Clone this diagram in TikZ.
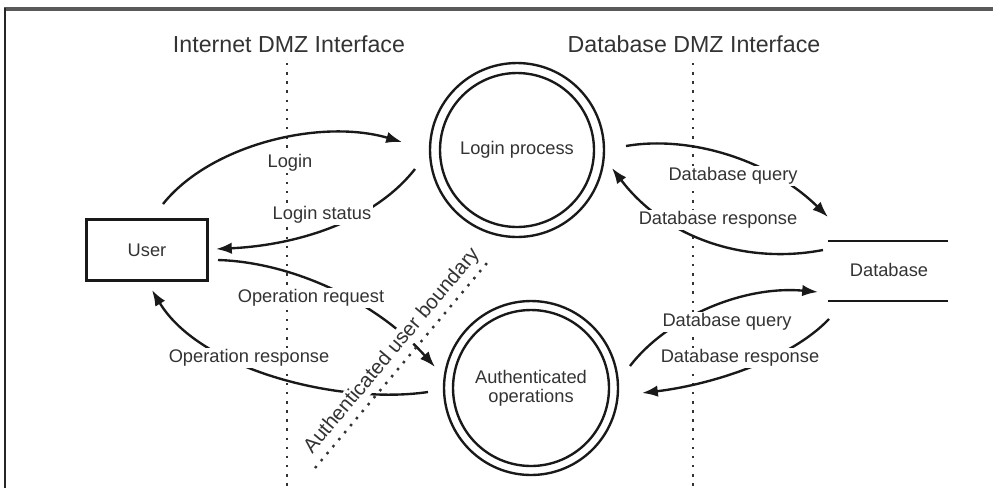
\documentclass[tikz,border=0pt]{standalone}
\usepackage{fontspec}
\setmainfont{Liberation Sans}
\usetikzlibrary{arrows.meta}
\begin{document}
\begin{tikzpicture}[x=0.02cm,y=-0.02cm,
  flow/.style={line width=1.35pt, draw=black!90, -{Latex[length=9pt,width=6.5pt]}},
  lbl/.style={font=\fontsize{10.4}{12}\selectfont, text=black!80, fill=white, inner sep=1pt},
  plain/.style={font=\fontsize{10.4}{12}\selectfont, text=black!80, inner sep=1pt},
  bndlbl/.style={font=\fontsize{11.6}{13}\selectfont, text=black!80, fill=white, inner sep=1pt},
  titletext/.style={font=\fontsize{13.2}{15}\selectfont, text=black!80},
  vdots/.style={line width=1.4pt, draw=black!80, dash pattern=on 1.4pt off 3.8pt},
  proc/.style={circle, draw=black!90, line width=1.35pt, minimum size=3.48cm, align=center,
    font=\fontsize{10.4}{11}\selectfont, text=black!80},
  inring/.style={draw=black!90, line width=1.35pt},
  userbox/.style={draw=black!90, line width=1.35pt, minimum width=2.42cm, minimum height=1.22cm,
    font=\fontsize{10.4}{12}\selectfont, text=black!80},
  storeline/.style={draw=black!90, line width=1.35pt}
]
\useasboundingbox (0,0) rectangle (993,488);
% frame
\draw[line width=1.8pt, draw=black!65] (4,9) -- (993,9);
\draw[line width=1.3pt, draw=black!85] (5,8) -- (5,488);

% titles
\node[titletext] (t1) at (289,44) {Internet DMZ Interface};
\node[titletext] (t2) at (694,44) {Database DMZ Interface};

% DMZ dotted lines
\coordinate (d1top) at (287,63);
\coordinate (d1bot) at (287,486);
\coordinate (d2top) at (693,63);
\coordinate (d2bot) at (693,486);
\draw[vdots] (d1top) -- (d1bot);
\draw[vdots] (d2top) -- (d2bot);

% nodes
\node[userbox] (user) at (147,250) {User};
\node[proc] (login) at (517,150) {Login process};
\draw[inring] (login.center) circle[radius=1.54cm];
\node[proc] (auth) at (531,388) {Authenticated\\operations};
\draw[inring] (auth.center) circle[radius=1.56cm];
\node[plain] (db) at (889,270) {Database};
\coordinate (dbA1) at (828,241);
\coordinate (dbA2) at (948,241);
\coordinate (dbB1) at (828,301);
\coordinate (dbB2) at (948,301);
\draw[storeline] (dbA1) -- (dbA2);
\draw[storeline] (dbB1) -- (dbB2);

% flow end points
\coordinate (f1s) at (163,204);  \coordinate (f1e) at (402,142);
\coordinate (f2s) at (415,169);  \coordinate (f2e) at (216,249);
\coordinate (f3s) at (218,260);  \coordinate (f3e) at (435,367);
\coordinate (f4s) at (428,392);  \coordinate (f4e) at (152,290);
\coordinate (f5s) at (626,146);  \coordinate (f5e) at (828,217);
\coordinate (f6s) at (823,250);  \coordinate (f6e) at (612,168);
\coordinate (f7s) at (630,366);  \coordinate (f7e) at (818,292);
\coordinate (f8s) at (829,319);  \coordinate (f8e) at (642,393);

\draw[flow] (f1s) .. controls (210,145) and (320,118) .. (f1e);
\draw[flow] (f2s) .. controls (375,220) and (300,245) .. (f2e);
\draw[flow] (f3s) .. controls (290,262) and (375,300) .. (f3e);
\draw[flow] (f4s) .. controls (340,405) and (200,370) .. (f4e);
\draw[flow] (f5s) .. controls (690,135) and (770,160) .. (f5e);
\draw[flow] (f6s) .. controls (745,265) and (665,238) .. (f6e);
\draw[flow] (f7s) .. controls (665,320) and (740,285) .. (f7e);
\draw[flow] (f8s) .. controls (790,360) and (710,385) .. (f8e);

% flow labels
\node[lbl] (l1) at (290,163) {Login};
\node[lbl] (l2) at (322,215) {Login status};
\node[lbl] (l3) at (311,298) {Operation request};
\node[lbl] (l4) at (249,358) {Operation response};
\node[lbl] (l5) at (733,176) {Database query};
\node[lbl] (l6) at (718,220) {Database response};
\node[lbl] (l7) at (727,322) {Database query};
\node[lbl] (l8) at (740,358) {Database response};

% authenticated user boundary
\coordinate (b1) at (315,468);
\coordinate (b2) at (487,263);
\draw[vdots] (b1) -- (b2) node[bndlbl, pos=0.52, sloped, above=2pt] (bl) {Authenticated user boundary};
\end{tikzpicture}
\end{document}
